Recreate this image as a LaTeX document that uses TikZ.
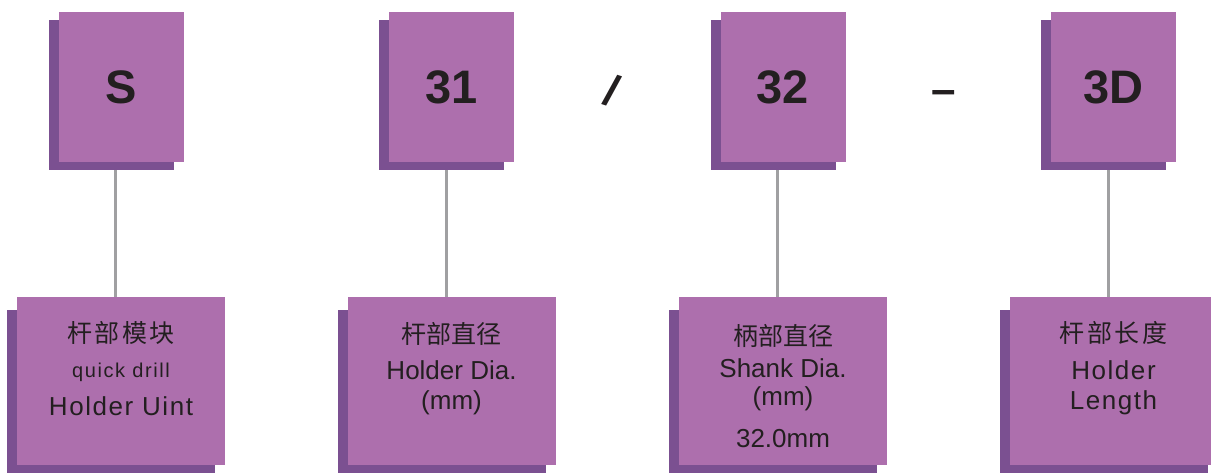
\documentclass[tikz,border=0pt]{standalone}
\usepackage{fontspec}
\setmainfont{Liberation Sans}
\newfontfamily\cjk{Noto Sans CJK SC}
\usepackage{xcolor}
\usetikzlibrary{
	shadows,
	calc
}

\definecolor{boxpurple}{RGB}{173,111,173}
\definecolor{shadepurple}{RGB}{123,80,145}
\definecolor{stemgray}{RGB}{160,160,162}
\definecolor{inkdark}{RGB}{35,31,32}

\tikzset{
	codebox/.style={fill=boxpurple, inner sep=0pt, minimum width=125pt, minimum height=150pt,
		text=inkdark, font=\fontsize{47}{47}\selectfont\bfseries,
		drop shadow={shadow xshift=-10pt, shadow yshift=-8pt, fill=shadepurple, opacity=1}},
	infobox/.style={fill=boxpurple, inner sep=0pt, minimum width=208pt, minimum height=168pt,
		drop shadow={shadow xshift=-10pt, shadow yshift=-13pt, fill=shadepurple, opacity=1}},
	sepmark/.style={inner sep=0pt, text=inkdark, font=\fontsize{44}{44}\selectfont\bfseries},
	cnline/.style={anchor=base, inner sep=0pt, text=inkdark, font=\cjk\fontsize{25}{25}\selectfont},
	cnwide/.style={cnline, font=\cjk\fontsize{25}{25}\selectfont\addfontfeature{LetterSpace=10}},
	enline/.style={anchor=base, inner sep=0pt, text=inkdark, font=\fontsize{26}{26}\selectfont},
	enwide/.style={enline, font=\fontsize{26}{26}\selectfont\addfontfeature{LetterSpace=6}},
	stem/.style={draw=stemgray, line width=3pt}
}

\begin{document}
\begin{tikzpicture}[x=1pt, y=-1pt]
	\path[use as bounding box, fill=white] (0,0) rectangle (1211,472);
	
	% 代码方块
	\node[codebox] (t1) at (121,87)    {S};
	\node[codebox] (t2) at (451.5,87)  {31};
	\node[codebox] (t3) at (783,87)    {32};
	\node[codebox] (t4) at (1113.5,87) {3D};
	
	% 分隔符
	\node[sepmark, rotate=-18] (slash) at (612,90.5) {/};
	\node[sepmark, anchor=base] (dash) at (943.5,104) {--};
	
	% 说明方块
	\node[infobox] (d1) at (121,381)    {};
	\node[infobox] (d2) at (451.5,381)  {};
	\node[infobox] (d3) at (783,381)    {};
	\node[infobox] (d4) at (1113.5,381) {};
	
	\foreach \i in {1,...,4}
		\draw[stem] ([xshift=-5.5pt,yshift=-8pt]t\i.south) -- ([xshift=-5.5pt]d\i.north);
	
	% 文字
	\node[cnwide] (d1cn) at (121,342.5) {杆部模块};
	\node[enline, font=\fontsize{20}{20}\selectfont\addfontfeature{LetterSpace=8}] (d1q) at (121,377) {quick drill};
	\node[enwide] (d1en) at (121,415) {Holder Uint};
	
	\node[cnline] (d2cn) at (451.5,343) {杆部直径};
	\node[enline] (d2en) at (451.5,379) {Holder Dia.};
	\node[enline] (d2mm) at (451.5,409) {(mm)};
	
	\node[cnline] (d3cn) at (783,345.5) {柄部直径};
	\node[enline] (d3en) at (783,377) {Shank Dia.};
	\node[enline] (d3mm) at (783,405) {(mm)};
	\node[enline] (d3v)  at (783,447) {32.0mm};
	
	\node[cnwide] (d4cn) at (1113.5,342) {杆部长度};
	\node[enwide] (d4en) at (1113.5,379) {Holder};
	\node[enwide] (d4l)  at (1113.5,409) {Length};
\end{tikzpicture}
\end{document}
